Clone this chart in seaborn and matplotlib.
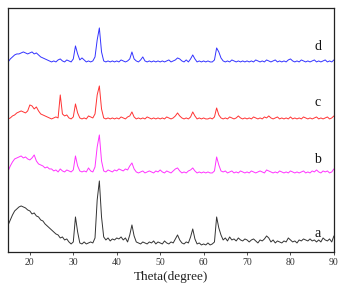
import numpy as np
import pandas as pd
import matplotlib
matplotlib.use("Agg")
import matplotlib.pyplot as plt
import seaborn as sns

# === data (arbitrary intensity units) ===
THETA = np.arange(15.0, 90.01, 0.5)

# rows of ten points = 5 degrees each, last value is 90.0
A_VALUES = [
    27, 32, 37, 41, 43, 45, 46, 45, 44, 42,    # 15.0 - 19.5
    41, 38, 39, 36, 35, 32, 31, 28, 26, 24,    # 20.0 - 24.5
    22, 20, 18, 17, 14, 15, 12, 13, 10, 8,     # 25.0 - 29.5
    10, 35, 20, 9, 8, 10, 8, 9, 10, 9,         # 30.0 - 34.5
    14, 52, 71, 35, 15, 12, 14, 11, 13, 12,    # 35.0 - 39.5
    14, 13, 15, 12, 14, 10, 17, 27, 16, 10,    # 40.0 - 44.5
    9, 8, 10, 9, 8, 10, 9, 11, 8, 10,          # 45.0 - 49.5
    9, 8, 11, 9, 8, 10, 9, 13, 17, 12,         # 50.0 - 54.5
    9, 8, 10, 9, 15, 23, 13, 8, 9, 7,          # 55.0 - 59.5
    8, 7, 9, 7, 8, 10, 35, 24, 17, 12,         # 60.0 - 64.5
    14, 11, 15, 12, 13, 11, 14, 12, 11, 13,    # 65.0 - 69.5
    12, 10, 12, 13, 11, 9, 12, 11, 13, 16,     # 70.0 - 74.5
    14, 10, 12, 9, 11, 10, 9, 11, 10, 14,      # 75.0 - 79.5
    12, 10, 11, 9, 12, 11, 13, 12, 11, 13,     # 80.0 - 84.5
    11, 12, 10, 12, 10, 14, 12, 11, 13, 10,    # 85.0 - 89.5
    16,
]
B_VALUES = [
    2, 7, 11, 14, 15, 16, 17, 15, 16, 14,
    13, 15, 18, 12, 9, 8, 7, 5, 6, 4,
    4, 2, 3, 1, 4, 2, 1, 3, 2, 1,
    3, 17, 7, 2, 1, 2, 1, 5, 2, 1,
    6, 26, 38, 12, 2, 1, 3, 2, 1, 3,
    2, 4, 3, 2, 4, 3, 7, 10, 4, 1,
    0, 1, 2, 0, 1, 2, 1, 0, 2, 1,
    3, 1, 0, 2, 1, 0, 2, 4, 5, 2,
    0, 1, 0, 2, 3, 5, 2, 0, 1, 0,
    1, 0, 1, 0, 0, 2, 16, 8, 2, 1,
    2, 0, 1, 2, 0, 1, 0, 2, 1, 0,
    1, 0, 2, 1, 0, 1, 2, 1, 0, 3,
    2, 1, 0, 1, 0, 2, 1, 0, 1, 0,
    2, 1, 0, 1, 0, 1, 2, 0, 1, 0,
    2, 1, 3, 1, 0, 2, 1, 2, 0, 1,
    4,
]
C_VALUES = [
    0, 1, 3, 4, 6, 7, 8, 7, 6, 8,
    14, 13, 10, 12, 8, 5, 4, 3, 2, 1,
    0, 1, 2, 1, 24, 5, 3, 4, 1, 0,
    2, 15, 6, 1, 0, 1, 0, 3, 2, 1,
    5, 24, 33, 10, 1, 0, 1, 0, 1, 0,
    1, 0, 2, 1, 0, 2, 3, 7, 2, 0,
    1, 0, 1, 0, 2, 1, 0, 1, 0, 1,
    0, 1, 0, 2, 1, 0, 1, 3, 6, 3,
    1, 0, 1, 0, 2, 7, 3, 0, 1, 0,
    1, 0, 0, 1, 0, 2, 11, 4, 1, 0,
    1, 0, 2, 1, 0, 1, 3, 1, 0, 1,
    0, 1, 0, 2, 1, 0, 1, 0, 2, 1,
    3, 1, 0, 1, 2, 0, 1, 0, 1, 0,
    2, 0, 1, 0, 1, 0, 2, 1, 0, 1,
    0, 1, 2, 0, 1, 0, 1, 2, 0, 1,
    3,
]
D_VALUES = [
    0, 3, 5, 7, 8, 8, 9, 10, 9, 8,
    9, 10, 8, 9, 7, 5, 4, 3, 2, 1,
    0, 1, 0, 2, 3, 1, 0, 2, 1, 0,
    3, 16, 8, 2, 4, 2, 0, 1, 0, 1,
    5, 22, 34, 10, 1, 0, 1, 0, 1, 0,
    1, 0, 2, 1, 0, 1, 3, 10, 3, 1,
    0, 2, 5, 1, 0, 1, 0, 1, 0, 1,
    0, 1, 0, 1, 2, 0, 1, 2, 4, 3,
    1, 0, 2, 0, 3, 7, 3, 0, 1, 0,
    1, 0, 1, 0, 0, 2, 14, 10, 4, 1,
    0, 1, 0, 2, 1, 0, 1, 0, 1, 0,
    1, 0, 1, 0, 2, 1, 0, 1, 0, 2,
    1, 0, 1, 2, 0, 1, 0, 1, 0, 2,
    3, 1, 0, 1, 0, 2, 1, 0, 1, 0,
    1, 2, 0, 1, 0, 1, 2, 0, 1, 0,
    2,
]

SAMPLES = ["a", "b", "c", "d"]
OFFSETS = [0, 79, 133, 190]
COLORS = ["#333333", "#ff33ff", "#ff3333", "#3333ff"]
LABEL_Y = [18, 92, 149, 205]

# === plotting ===
sns.set_style("ticks")
plt.rcParams["font.family"] = ["Liberation Serif", "DejaVu Serif"]

fig = plt.figure(figsize=(3.39, 2.94), dpi=100)
ax = fig.add_axes([0.024, 0.143, 0.961, 0.830])

for name, vals, off, col, ly in zip(SAMPLES, [A_VALUES, B_VALUES, C_VALUES, D_VALUES],
                                   OFFSETS, COLORS, LABEL_Y):
    df = pd.DataFrame({"theta": THETA, "intensity": np.array(vals) + off})
    sns.lineplot(data=df, x="theta", y="intensity", color=col, linewidth=0.7, ax=ax)
    ax.text(86.3, ly, name, fontsize=10, color="#111111", ha="center", va="center")

ax.set_xlim(15, 90)
ax.set_ylim(0, 244)
ax.set_xticks(np.arange(20, 91, 10))
ax.set_yticks([])
ax.set_ylabel("")
ax.set_xlabel("Theta(degree)", fontsize=9.5, color="#222222", labelpad=3)
ax.tick_params(axis="x", labelsize=7, colors="#333333", length=2, width=0.6, pad=2)
for s in ax.spines.values():
    s.set_visible(True)
    s.set_linewidth(0.9)
    s.set_color("#222222")

fig.savefig("out.png", dpi=100)
